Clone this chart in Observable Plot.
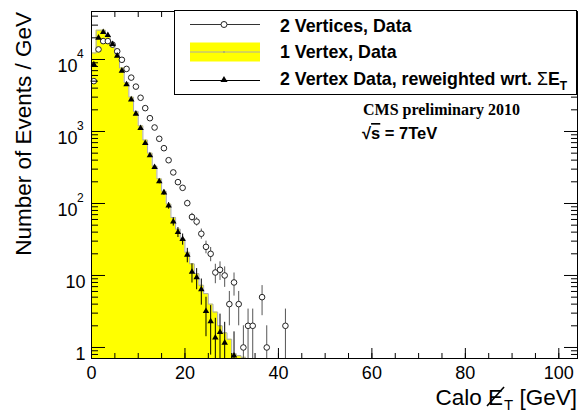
<!DOCTYPE html>
<html><head><meta charset="utf-8">
<script src="https://cdn.jsdelivr.net/npm/d3@7"></script>
<script src="https://cdn.jsdelivr.net/npm/@observablehq/plot@0.6"></script>
<style>body{margin:0;background:#fff} svg{display:block}</style>
</head><body><div id="chart"></div>
<script>
// bin width 1 GeV, bins start at 0
const binWidth = 1;
// 2 Vertices, Data (open circles), bins 0..41
const twoVertices = [5000, 13800, 18000, 18000, 16100, 13000, 9900, 7400, 5600, 4200, 2940, 2110, 1530, 1136, 792, 586, 399, 270, 198, 165, 101, 65, 56, 38, 25, 20, 11, 12, 10, 4, 8, 4, 1, 2, 2, 0, 5, 1, 0, 0, 0, 2];
// 1 Vertex, Data (yellow histogram), bins 0..32
const oneVertex = [12300, 25500, 25500, 21000, 16500, 11800, 7600, 4800, 3000, 1900, 1200, 760, 500, 330, 220, 148, 98, 64, 44, 32, 21, 14.5, 10.6, 7.3, 5.6, 4.0, 3.1, 2.0, 1.6, 1.3, 0.82, 0.77, 0.73];
// 2 Vertex Data, reweighted wrt. sum ET (triangles), bins 0..30
const reweighted = [8530, 20000, 23950, 21770, 16320, 11250, 6970, 4500, 2780, 1760, 1110, 688, 464, 319, 202, 142, 93, 56, 40, 32, 19.4, 11.2, 9.4, 6.4, 3.2, 2.3, 1.37, 1.63, 1.16, 0, 0.77];

const xMajor = [0, 20, 40, 60, 80, 100];
const xMinor = d3.range(0, 105, 5);
const yMajor = [1, 10, 100, 1000, 10000];
const yMinor = [0.8, 0.9, 2,3,4,5,6,7,8,9, 20,30,40,50,60,70,80,90, 200,300,400,500,600,700,800,900, 2000,3000,4000,5000,6000,7000,8000,9000, 20000,30000,40000];
const yBase = ["1", "10", "10", "10", "10"];
const yExp = ["", "", "2", "3", "4"];

const xDomain = [0, 104];
const yDomain = [0.703, 46400];
const yFloor = yDomain[0];

const pts = (arr) => arr.map((v, i) => ({x: (i + 0.5) * binWidth, y: v, lo: Math.max(v - Math.sqrt(v), yFloor / 2), hi: v + Math.sqrt(v)})).filter(d => d.y > 0);
const circData = pts(twoVertices);
const triData = pts(reweighted);
const stepPts = [];
oneVertex.forEach((v, i) => { stepPts.push({x: i * binWidth, y: v}); stepPts.push({x: (i + 1) * binWidth, y: v}); });

const font = "'Liberation Sans', Arial, Helvetica, sans-serif";
const tickAxis = (fn, data, anchor, size) => fn(data, {anchor, tickSize: size, tickFormat: () => "", label: null});
const chart = Plot.plot({
  width: 579, height: 413,
  marginLeft: 91, marginRight: 2, marginTop: 11, marginBottom: 55,
  x: {domain: xDomain},
  y: {type: "log", domain: yDomain},
  style: {fontFamily: font, fontSize: "18px", color: "black", background: "white"},
  marks: [
    Plot.areaY(stepPts, {x: "x", y1: () => yFloor, y2: "y", fill: "#ffff00"}),
    Plot.lineY(stepPts, {x: "x", y: "y", stroke: "#aaa", strokeWidth: 1}),
    Plot.ruleX(circData, {x: "x", y1: "lo", y2: "hi", stroke: "#555", strokeWidth: 1, clip: true}),
    Plot.dot(circData, {x: "x", y: "y", r: 2.8, stroke: "#222", fill: "white", strokeWidth: 1}),
    Plot.ruleX(triData, {x: "x", y1: "lo", y2: "hi", stroke: "#000", strokeWidth: 1, clip: true}),
    Plot.dot(triData, {x: "x", y: "y", symbol: "triangle", r: 2.4, fill: "black", stroke: "none"}),
    // ticks inside the frame
    tickAxis(Plot.axisX, xMinor, "bottom", -5),
    tickAxis(Plot.axisX, xMajor, "bottom", -10),
    tickAxis(Plot.axisX, xMinor, "top", -5),
    tickAxis(Plot.axisX, xMajor, "top", -10),
    tickAxis(Plot.axisY, yMinor, "left", -7),
    tickAxis(Plot.axisY, yMajor, "left", -14),
    tickAxis(Plot.axisY, yMinor, "right", -7),
    tickAxis(Plot.axisY, yMajor, "right", -14),
    // tick labels
    Plot.axisX(xMajor, {anchor: "bottom", tickSize: 0, tickPadding: 8, fontSize: 18, tickFormat: d => String(d), label: null}),
    Plot.text(yMajor, {y: d => d, text: (d, i) => yBase[i], frameAnchor: "left", textAnchor: "end", fontSize: 18}),
    Plot.frame({stroke: "black", strokeWidth: 1})
  ]
});

document.getElementById("chart").appendChild(chart);
const svg = d3.select(chart);
const sy = chart.scale("y");

// label offsets: labels with exponent end at 77, others at 85
svg.selectAll("g[aria-label='text'] text").each(function(d, i) {
  const el = d3.select(this);
  const hasExp = yExp[i] !== "";
  el.attr("dx", hasExp ? -14 : -6).attr("dy", "0.4em");
});
// exponents
yMajor.forEach((v, i) => {
  if (!yExp[i]) return;
  svg.append("text").attr("x", 77).attr("y", sy.apply(v) - 1).attr("text-anchor", "start")
    .attr("font-family", font).attr("font-size", 12).text(yExp[i]);
});

// y title
svg.append("text").attr("transform", "translate(30.5,12) rotate(-90)")
  .attr("text-anchor", "end").attr("font-family", font).attr("font-size", 22.5)
  .text("Number of Events / GeV");

// x title (missing-ET symbol: E with a slash line)
const xt = svg.append("text").attr("x", 577).attr("y", 405).attr("text-anchor", "end")
  .attr("font-family", font).attr("font-size", 22.5);
xt.append("tspan").text("Calo E");
xt.append("tspan").attr("dx", 1).attr("dy", 5).attr("font-size", 15).text("T");
xt.append("tspan").attr("dy", -5).text(" [GeV]");
const xtNode = xt.node();
const eStart = xtNode.getStartPositionOfChar(5), eEnd = xtNode.getEndPositionOfChar(5);
svg.append("line").attr("x1", eStart.x - 1).attr("y1", 405 + 1).attr("x2", eEnd.x + 1).attr("y2", 405 - 18)
  .attr("stroke", "black").attr("stroke-width", 1.6);

// legend
const lg = svg.append("g").attr("text-anchor", "start");
lg.append("rect").attr("x", 174.5).attr("y", 10.5).attr("width", 402).attr("height", 84)
  .attr("fill", "white").attr("stroke", "black").attr("stroke-width", 1);
const lx1 = 190, lx2 = 260, lxm = 224;
lg.append("line").attr("x1", lx1).attr("x2", lx2).attr("y1", 24.5).attr("y2", 24.5).attr("stroke", "#333");
lg.append("circle").attr("cx", lxm).attr("cy", 24.5).attr("r", 3).attr("fill", "white").attr("stroke", "#222");
lg.append("rect").attr("x", lx1).attr("y", 42.5).attr("width", lx2 - lx1).attr("height", 19).attr("fill", "#ffff00");
lg.append("line").attr("x1", lx1).attr("x2", lx2).attr("y1", 52).attr("y2", 52).attr("stroke", "#aaa");
lg.append("circle").attr("cx", lxm).attr("cy", 52).attr("r", 0.8).attr("fill", "#888");
lg.append("line").attr("x1", lx1).attr("x2", lx2).attr("y1", 80.5).attr("y2", 80.5).attr("stroke", "#000");
lg.append("path").attr("d", d3.symbol(d3.symbolTriangle, 22)()).attr("transform", `translate(${lxm},80)`).attr("fill", "black");
const lt = (y) => lg.append("text").attr("x", 280).attr("y", y).attr("text-anchor", "start").attr("font-family", font)
  .attr("font-size", 17.8).attr("font-weight", "bold");
lt(31.5).text("2 Vertices, Data");
lt(58.3).text("1 Vertex, Data");
const t3 = lt(85);
t3.append("tspan").text("2 Vertex Data, reweighted wrt. ");
t3.append("tspan").attr("font-weight", "normal").text("Σ");
t3.append("tspan").text("E");
t3.append("tspan").attr("dy", 5).attr("font-size", 12).text("T");

// annotations
svg.append("text").attr("x", 363).attr("y", 115).attr("text-anchor", "start").attr("font-family", "'Liberation Serif', 'Times New Roman', serif")
  .attr("font-size", 16).attr("font-weight", "bold").text("CMS preliminary 2010");
const sq = svg.append("text").attr("x", 362).attr("y", 139).attr("text-anchor", "start").attr("font-family", font)
  .attr("font-size", 16.5).attr("font-weight", "bold");
sq.append("tspan").text("√");
sq.append("tspan").attr("text-decoration", "overline").text("s");
sq.append("tspan").text(" = 7TeV");
</script></body></html>
